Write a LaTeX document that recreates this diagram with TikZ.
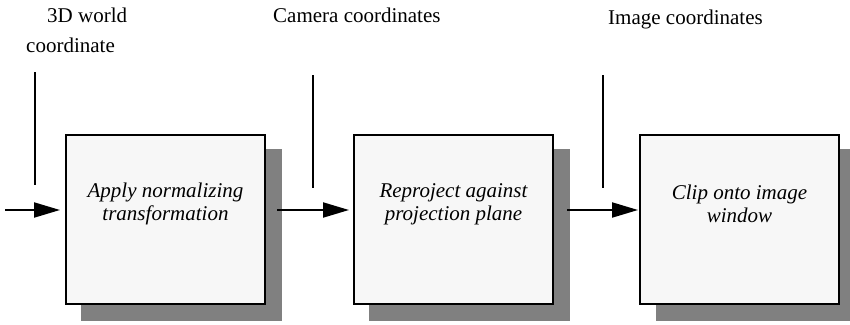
\documentclass[tikz,border=0pt]{standalone}
\usepackage{fontspec}
\setmainfont{Liberation Serif}
\usetikzlibrary{arrows.meta}
\begin{document}
\begin{tikzpicture}[x=1pt,y=-1pt,
  stagebox/.style={draw=black,line width=2pt,fill=black!3,minimum width=199pt,minimum height=169pt,inner sep=0pt},
  shadowbox/.style={fill=black!50},
  stagetext/.style={align=center,font=\fontsize{21}{23}\selectfont\itshape,inner sep=0pt},
  toplabel/.style={anchor=base west,font=\fontsize{21}{25}\selectfont,inner sep=0pt},
  flow/.style={line width=2pt,-{Triangle[length=26pt,width=15pt]}},
  feed/.style={line width=1.8pt}]
\useasboundingbox (0,0) rectangle (850,324);
% shadows
\fill[black!50] (81,149) rectangle (282,321);
\fill[black!50] (369,149) rectangle (570,321);
\fill[black!50] (656,149) rectangle (850,321);
% boxes
\node[stagebox] (b1) at (165.5,219.5) {};
\node[stagebox] (b2) at (453.5,219.5) {};
\node[stagebox] (b3) at (739.5,219.5) {};
\node[stagetext] (t1) at (165.5,204) {Apply normalizing\\transformation};
\node[stagetext] (t2) at (453.5,204) {Reproject against\\projection plane};
\node[stagetext] (t3) at (739.5,204) {Clip onto image\\window};
% labels
\node[toplabel] (l1a) at (47,22) {3D world};
\node[toplabel] (l1b) at (26,52) {coordinate};
\node[toplabel] (l2) at (273,22) {Camera coordinates};
\node[toplabel] (l3) at (608,24) {Image coordinates};
% feed lines
\coordinate (v1t) at (35,72); \coordinate (v1b) at (35,185);
\coordinate (v2t) at (313,75); \coordinate (v2b) at (313,188);
\coordinate (v3t) at (603,75); \coordinate (v3b) at (603,188);
\draw[feed] (v1t) -- (v1b);
\draw[feed] (v2t) -- (v2b);
\draw[feed] (v3t) -- (v3b);
% flow arrows
\coordinate (in) at (5,210);
\draw[flow,shorten >=5pt] (in) -- (in -| b1.west);
\draw[flow,shorten <=11pt,shorten >=4pt] (b1.east |- in) -- (b2.west |- in);
\draw[flow,shorten <=13pt,shorten >=1pt] (b2.east |- in) -- (b3.west |- in);
\end{tikzpicture}
\end{document}
